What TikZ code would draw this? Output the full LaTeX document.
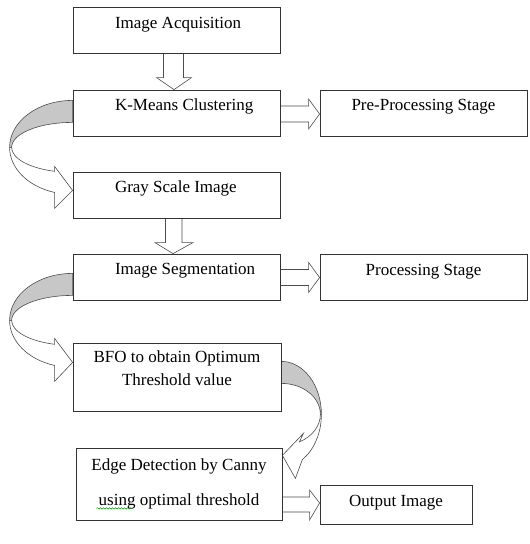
\documentclass[tikz,border=0pt]{standalone}
\usepackage{fontspec}
\setmainfont{Liberation Serif}
\usetikzlibrary{calc,backgrounds,decorations.pathmorphing}

% text set from a fixed indent inside a centred box
\newcommand\indented[1]{\makebox[123pt][l]{#1}}

\tikzset{
  box/.style={draw=black!80, line width=0.8pt, fill=white, minimum width=207pt,
    minimum height=46pt, inner sep=0pt},
  oneline/.style={text height=12pt, text depth=17pt},
  blockarrow/.style={draw=black!70, line width=0.6pt, fill=white, line join=miter},
  backside/.style={draw=black!70, line width=0.6pt, fill=black!22},
}

\begin{document}
\begin{tikzpicture}[x=1pt,y=-1pt,font=\fontsize{17}{23}\selectfont]
   \useasboundingbox (0,0) rectangle (530,544);
   % stages
   \node[box,oneline] (acq)  at (176.5,30.5) {\indented{Image Acquisition}};
   \node[box,oneline] (km)   at (176.5,113)  {\indented{K-Means Clustering}};
   \node[box,oneline] (pre)  at (423.5,113)  {Pre-Processing Stage};
   \node[box,oneline] (gray) at (176.5,195)  {\indented{Gray Scale Image}};
   \node[box,oneline] (seg)  at (176.5,277)  {\indented{Image Segmentation}};
   \node[box,oneline] (proc) at (423.5,277.5) {Processing Stage};
   \node[box,minimum width=208pt,minimum height=68pt,text depth=23pt] (bfo) at (177,377)
     {\begin{tabular}[b]{@{}c@{}}BFO to obtain Optimum\\Threshold value\end{tabular}};
   \node[box,minimum width=206pt,minimum height=72pt,text depth=9pt] (edge) at (179,484)
     {\begin{tabular}[b]{@{}c@{}}Edge Detection by Canny\\[12pt]using optimal threshold\end{tabular}};
   \node[box,minimum width=152pt,minimum height=39pt,text height=12pt,text depth=9pt] (out) at (396,504.5)
     {Output Image};
   % spell check mark
   \draw[green!55!black,line width=0.5pt,decorate,decoration={snake,amplitude=0.7pt,segment length=3pt}]
     ($(edge.south west)+(21,-12)$) -- ($(edge.south west)+(57,-12)$);

   \begin{scope}[on background layer]
   % straight block arrows
   \draw[blockarrow] let \p1=(acq.south), \p2=(km.north) in
     (\x1-13pt,\y1) -- (\x1-13pt,\y2+12pt) -- (\x1-20pt,\y2+12pt) -- (\x1-2.5pt,\y2)
     -- (\x1+15pt,\y2+12pt) -- (\x1+7pt,\y2+12pt) -- (\x1+7pt,\y1);
   \draw[blockarrow] let \p1=(gray.south), \p2=(seg.north) in
     (\x1-11pt,\y1) -- (\x1-11pt,\y2+11pt) -- (\x1-21.5pt,\y2+11pt) -- (\x1-3.5pt,\y2)
     -- (\x1+16.5pt,\y2+11pt) -- (\x1+5.5pt,\y2+11pt) -- (\x1+5.5pt,\y1);
   \draw[blockarrow] let \p1=(km.east), \p2=(pre.west) in
     (\x1,\y2+7pt) -- (\x2-11pt,\y2+7pt) -- (\x2-11pt,\y2+14pt) -- (\x2,\y2-1pt)
     -- (\x2-11pt,\y2-16pt) -- (\x2-11pt,\y2-9pt) -- (\x1,\y2-9pt);
   \draw[blockarrow] let \p1=(seg.east), \p2=(proc.west) in
     (\x1,\y2+8pt) -- (\x2-11pt,\y2+8pt) -- (\x2-11pt,\y2+15pt) -- (\x2,\y2)
     -- (\x2-11pt,\y2-15pt) -- (\x2-11pt,\y2-8pt) -- (\x1,\y2-8pt);
   \draw[blockarrow] let \p1=(edge.east), \p2=(out.west) in
     (\x1,\y2+7.5pt) -- (\x2-10pt,\y2+7.5pt) -- (\x2-10pt,\y2+14.5pt) -- (\x2,\y2+1.5pt)
     -- (\x2-10pt,\y2-15.5pt) -- (\x2-10pt,\y2-7.5pt) -- (\x1,\y2-7.5pt);

   % curved arrows
   \begin{scope}[shift={($(km.south west)+(0,11)$)}]
     \draw[blockarrow] (-63,0) arc[start angle=180,end angle=106.6,x radius=63,y radius=47]
       -- (-18,61) -- (0,43) -- (-18,19) -- (-18,23.9)
       arc[start angle=107.2,end angle=180,x radius=61,y radius=25] -- cycle;
     \draw[backside] (0,-47) arc[start angle=270,end angle=180,x radius=63,y radius=47]
       -- (-61,0) arc[start angle=180,end angle=270,x radius=61,y radius=25] -- cycle;
   \end{scope}
   \begin{scope}[shift={($(seg.south west)+(0,20)$)}]
     \draw[blockarrow] (-63,0) arc[start angle=180,end angle=106.6,x radius=63,y radius=47]
       -- (-18,61) -- (0,42) -- (-18,18) -- (-18,23.9)
       arc[start angle=107.2,end angle=180,x radius=61,y radius=25] -- cycle;
     \draw[backside] (0,-47) arc[start angle=270,end angle=180,x radius=63,y radius=47]
       -- (-61,0) arc[start angle=180,end angle=270,x radius=61,y radius=25] -- cycle;
   \end{scope}
   \begin{scope}[shift={($(bfo.south east)+(0,3)$)}]
     \draw[blockarrow] (40,0) arc[start angle=0,end angle=58.3,x radius=40,y radius=53]
       -- (14,64) -- (1,41) -- (22,19) -- (18,27.5)
       arc[start angle=62.5,end angle=0,x radius=39,y radius=31] -- cycle;
     \draw[backside] (0,-53) arc[start angle=270,end angle=360,x radius=40,y radius=53]
       -- (39,0) arc[start angle=360,end angle=270,x radius=39,y radius=31] -- cycle;
   \end{scope}
   \end{scope}
\end{tikzpicture}
\end{document}
